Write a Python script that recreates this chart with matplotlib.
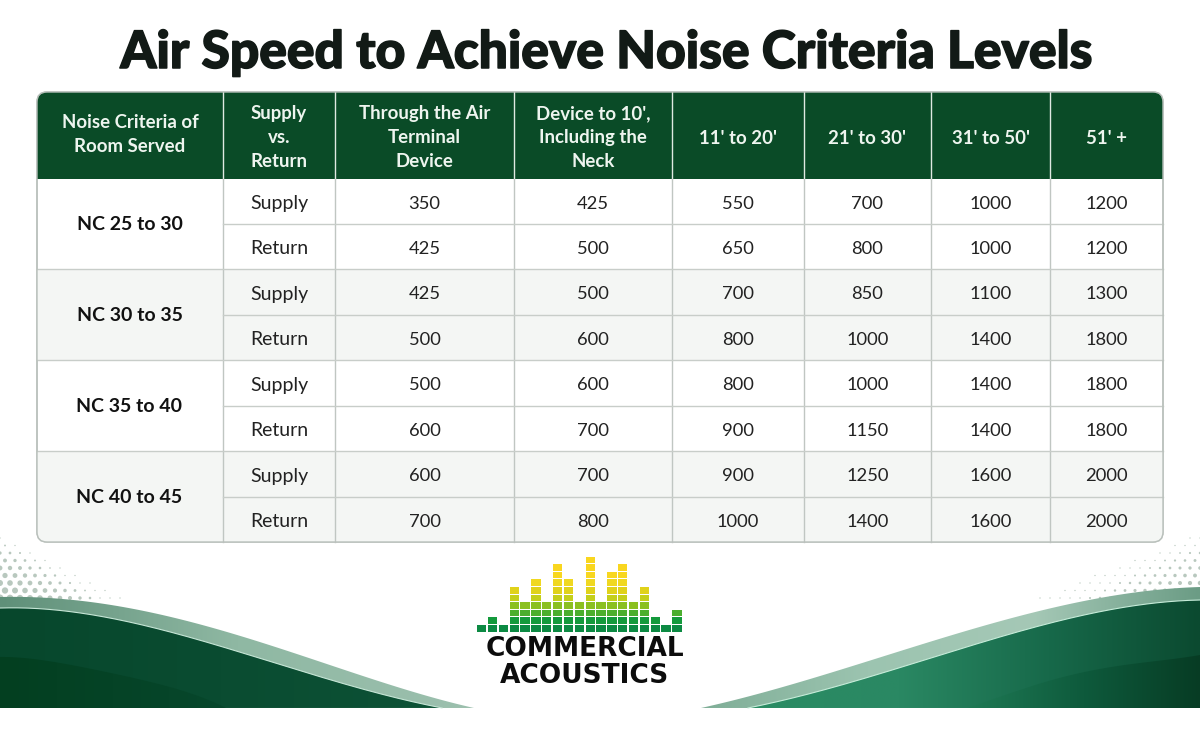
import numpy as np
import matplotlib
matplotlib.use("Agg")
import matplotlib.pyplot as plt
import matplotlib.patheffects as pe
from matplotlib.patches import FancyBboxPatch, Rectangle, Polygon
from matplotlib.colors import LinearSegmentedColormap

title = "Air Speed to Achieve Noise Criteria Levels"
headers = ["Noise Criteria of\nRoom Served", "Supply\nvs.\nReturn", "Through the Air\nTerminal\nDevice",
           "Device to 10',\nIncluding the\nNeck", "11' to 20'", "21' to 30'", "31' to 50'", "51' +"]
groups = ["NC 25 to 30", "NC 30 to 35", "NC 35 to 40", "NC 40 to 45"]
kinds = ["Supply", "Return"]
through = [350, 425, 425, 500, 500, 600, 600, 700]
device = [425, 500, 500, 600, 600, 700, 700, 800]
d11_20 = [550, 650, 700, 800, 800, 900, 900, 1000]
d21_30 = [700, 800, 850, 1000, 1000, 1150, 1250, 1400]
d31_50 = [1000, 1000, 1100, 1400, 1400, 1400, 1600, 1600]
d51 = [1200, 1200, 1300, 1800, 1800, 1800, 2000, 2000]
logo_levels = [1, 2, 1, 6, 4, 7, 4, 9, 7, 4, 10, 4, 8, 9, 4, 6, 2, 1, 3]

col_edges = [37, 223, 335, 514, 672, 804, 931, 1050, 1163]
row_edges = [179, 224, 269, 315, 360, 406, 451, 497, 542]
T_TOP = 92
DARK = "#0a4b27"
FONT = "Lato"

fig = plt.figure(figsize=(12, 7.5), dpi=100, facecolor="white")
ax = fig.add_axes([0, 0, 1, 1])
ax.set_xlim(0, 1200)
ax.set_ylim(750, 0)
ax.axis("off")


def smooth(pts, deg=4):
    p = np.array(pts, float)
    lo, hi = p[0, 0], p[-1, 0]
    u = (p[:, 0] - lo) / (hi - lo)
    w = np.ones(len(u))
    w[0] = w[-1] = 4
    coef = np.polyfit(u, p[:, 1], min(deg, len(u) - 1), w=w)
    uu = np.linspace(0, 1, 300)
    return np.column_stack([lo + uu * (hi - lo), np.minimum(np.polyval(coef, uu), 708)])


def wave(pts, colors, x0, x1, z, closing, edge=None):
    c = smooth(pts)
    poly = np.vstack([c, closing])
    patch = Polygon(poly, closed=True, facecolor="none", edgecolor="none", zorder=z)
    ax.add_patch(patch)
    cmap = LinearSegmentedColormap.from_list("w", colors)
    im = ax.imshow(np.linspace(0, 1, 256)[None, :], extent=[x0, x1, 708, 560], cmap=cmap,
                   aspect="auto", zorder=z, interpolation="bilinear")
    im.set_clip_path(patch)
    if edge:
        ax.plot(c[:, 0], c[:, 1], color=edge, lw=0.8, zorder=z + 0.5)


# halftone dots
for side in (0, 1):
    xs, ys, ss = [], [], []
    for r, y in enumerate(np.arange(538, 604, 7.5)):
        for q in range(30):
            d = q * 10.0 + (r % 2) * 5.0
            lim = (y - 533) * (2.5 if side else 2.0)
            if d < lim:
                xs.append(1200 - d if side else d)
                ys.append(y)
                big = 13 if side else 24
                ss.append(max(0.9, big * (y - 540) / 55 * (1 - d / (lim * 0.8))))
    ax.scatter(xs, ys, s=ss, color="#b8c8be", linewidths=0, zorder=1)

# left waves
wave([(0, 597), (40, 598), (100, 603), (160, 615), (240, 634), (300, 657), (360, 675), (420, 693), (474, 708)],
     ["#5f9079", "#8fb8a3", "#9cc0ae"], 0, 474, 2, [(0, 708)])
wave([(0, 608), (40, 609), (100, 617), (160, 628), (240, 652), (300, 672), (360, 688), (420, 702), (442, 708)],
     ["#07472c", "#0a4c31", "#0d5236"], 0, 442, 4, [(0, 708)], edge="#c6e6d6")
wave([(0, 657), (60, 663), (120, 675), (180, 690), (226, 708)],
     ["#033f20", "#07472c"], 0, 226, 5, [(0, 708)])

# right waves
wave([(701, 708), (780, 687), (840, 670), (900, 653), (960, 631), (1040, 611), (1100, 598), (1160, 590), (1200, 587)],
     ["#7fae97", "#9cc4b0", "#a5c8b6", "#6b9c85"], 701, 1200, 2, [(1200, 708)])
wave([(748, 708), (800, 695), (860, 680), (920, 663), (960, 648), (1040, 625), (1100, 612), (1160, 603), (1200, 600)],
     ["#2a8c63", "#2a8863", "#17694a", "#0b4a30"], 748, 1200, 4, [(1200, 708)], edge="#c6ecd9")
wave([(968, 708), (1020, 690), (1080, 673), (1140, 663), (1200, 655)],
     ["#1f7a55", "#0e5a3c", "#073c24"], 968, 1200, 5, [(1200, 708)])

# title
title_text = ax.text(606, 68, title, ha="center", va="baseline", fontsize=40, fontweight="black",
                     family=FONT, color="#121a16", zorder=10,
                     path_effects=[pe.withStroke(linewidth=1.1, foreground="#121a16")])
fig.canvas.draw()
measured = title_text.get_window_extent(fig.canvas.get_renderer()).width
title_text.set_fontsize(40 * 972 / measured)

# table
x0, x1, y1 = col_edges[0], col_edges[-1], row_edges[-1]
frame = FancyBboxPatch((x0, T_TOP), x1 - x0, y1 - T_TOP, boxstyle="round,pad=0,rounding_size=10",
                       facecolor="white", edgecolor="#b9c0bb", linewidth=1, zorder=6)
ax.add_patch(frame)
clip = FancyBboxPatch((x0, T_TOP), x1 - x0, y1 - T_TOP, boxstyle="round,pad=0,rounding_size=10",
                      facecolor="none", edgecolor="none", zorder=6)
ax.add_patch(clip)

head = Rectangle((x0, T_TOP), x1 - x0, row_edges[0] - T_TOP, facecolor=DARK, edgecolor="none", zorder=7)
ax.add_patch(head)
head.set_clip_path(clip)

for g in (1, 3):
    r = Rectangle((x0, row_edges[g * 2]), x1 - x0, row_edges[g * 2 + 2] - row_edges[g * 2],
                  facecolor="#f4f6f4", edgecolor="none", zorder=7)
    ax.add_patch(r)
    r.set_clip_path(clip)

for e in col_edges[1:-1]:
    ax.plot([e, e], [T_TOP, row_edges[0]], color="#dfe9e2", lw=1, zorder=8)
    ax.plot([e, e], [row_edges[0], y1], color="#c0c6c2", lw=1, zorder=8)
for i, y in enumerate(row_edges[1:-1], start=1):
    start = x0 if i % 2 == 0 else col_edges[1]
    ax.plot([start, x1], [y, y], color="#c8cdc9", lw=1, zorder=8)
frame2 = FancyBboxPatch((x0, T_TOP), x1 - x0, y1 - T_TOP, boxstyle="round,pad=0,rounding_size=10",
                        facecolor="none", edgecolor="#b9c0bb", linewidth=1, zorder=9)
ax.add_patch(frame2)

col_mid = [(a + b) / 2 for a, b in zip(col_edges[:-1], col_edges[1:])]
row_mid = [(a + b) / 2 for a, b in zip(row_edges[:-1], row_edges[1:])]
head_y = (T_TOP + row_edges[0]) / 2
head_shift = {1: 3.0, 2: -1.5, 3: 2.0}

for m, h in zip(col_mid, headers):
    ax.text(m, head_y + head_shift[h.count("\n") + 1], h, ha="center", va="center", fontsize=13.4,
            fontweight="bold", family=FONT, color="#eef5ef", linespacing=1.5, zorder=10)
for i, g in enumerate(groups):
    ax.text(col_mid[0] - 0.5, row_edges[2 * i + 1] + 0.5, g, ha="center", va="center", fontsize=14,
            fontweight="bold", family=FONT, color="#111111", zorder=10)
columns = [through, device, d11_20, d21_30, d31_50, d51]
for r in range(8):
    yy = row_mid[r] + 2.2
    ax.text(col_mid[1] + 0.5, yy, kinds[r % 2], ha="center", va="center", fontsize=14,
            family=FONT, color="#222222", zorder=10)
    for c, col in enumerate(columns):
        ax.text(col_mid[c + 2], yy, str(col[r]), ha="center", va="center", fontsize=13.2,
                family=FONT, color="#222222", zorder=10)

# logo
cmap = LinearSegmentedColormap.from_list(
    "logo", ["#0c8a43", "#149a3c", "#4cae2e", "#8bc020", "#c5cf1a", "#e0d21a", "#f0d820", "#f8d720", "#f9d61f", "#f9d61f"])
pitch_x = 10.85
base = 632
cell_h = 7.6
for i, lv in enumerate(logo_levels):
    bx = 477 + i * pitch_x
    for k in range(lv):
        ax.add_patch(Rectangle((bx, base - (k + 1) * cell_h + 0.5), pitch_x - 1.5, cell_h - 1.0,
                               facecolor=cmap(k / 9), edgecolor="none", zorder=10))
ax.text(585, 656.5, "COMMERCIAL", ha="center", va="baseline", fontsize=19, fontweight="bold",
        family="DejaVu Sans", color="#0c0c0c", zorder=10)
ax.text(584, 683, "ACOUSTICS", ha="center", va="baseline", fontsize=19, fontweight="bold",
        family="DejaVu Sans", color="#0c0c0c", zorder=10)

ax.set_xlim(0, 1200)
ax.set_ylim(750, 0)
fig.savefig("out.png", dpi=100, facecolor="white")
